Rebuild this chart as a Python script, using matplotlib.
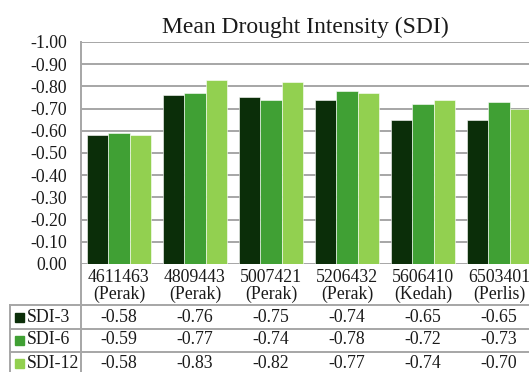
import numpy as np
import matplotlib
matplotlib.use("Agg")
import matplotlib.pyplot as plt
from matplotlib.transforms import blended_transform_factory

plt.rcParams['font.family'] = ['Liberation Serif', 'DejaVu Serif']

stations = ['4611463\n(Perak)', '4809443\n(Perak)', '5007421\n(Perak)',
            '5206432\n(Perak)', '5606410\n(Kedah)', '6503401\n(Perlis)']
series_names = ['SDI-3', 'SDI-6', 'SDI-12']
sdi3 = [-0.58, -0.76, -0.75, -0.74, -0.65, -0.65]
sdi6 = [-0.59, -0.77, -0.74, -0.78, -0.72, -0.73]
sdi12 = [-0.58, -0.83, -0.82, -0.77, -0.74, -0.70]
yticks = [0.0, -0.1, -0.2, -0.3, -0.4, -0.5, -0.6, -0.7, -0.8, -0.9, -1.0]

colors = ['#0b2e09', '#40a034', '#92d050']
grid_c = '#a6a6a6'
txt_c = '#1a1a1a'
fs = 12.8
W, H = 529, 372

fig = plt.figure(figsize=(W / 100, H / 100), dpi=100)
# plot area runs past the right edge, as in the cropped original
ax = fig.add_axes([81 / W, (H - 264) / H, 456 / W, 222 / H])

x = np.arange(len(stations))
bw = 0.28
for k, vals in enumerate([sdi3, sdi6, sdi12]):
    ax.bar(x + (k - 1) * bw, vals, width=bw, color=colors[k], zorder=3,
           edgecolor='white', linewidth=0.4)

ax.set_xlim(-0.5, len(stations) - 0.5)
ax.set_ylim(0, -1.0)
ax.set_yticks(yticks)
ax.set_yticklabels(['%.2f' % v for v in yticks], fontsize=fs, color=txt_c)
ax.tick_params(axis='y', length=0, pad=10)
ax.set_xticks([])
ax.grid(axis='y', color=grid_c, linewidth=1.4, zorder=0)
for s in ['top', 'right', 'bottom']:
    ax.spines[s].set_visible(False)
ax.spines['left'].set_color(grid_c)
ax.spines['left'].set_linewidth(1.4)

fig.text(305 / W, (H - 33) / H, 'Mean Drought Intensity (SDI)', fontsize=17,
         ha='center', va='baseline', color=txt_c)

# data table under the plot
tr = blended_transform_factory(ax.transData, fig.transFigure)
def fy(py):
    return (H - py) / H

for i, lab in enumerate(stations):
    ax.text(x[i], fy(286), lab, transform=tr, ha='center', va='center',
            fontsize=fs, linespacing=1.05, clip_on=False, color=txt_c)

row_y = [317, 340, 363]
for r, (name, vals) in enumerate(zip(series_names, [sdi3, sdi6, sdi12])):
    fig.patches.append(plt.Rectangle((15 / W, fy(row_y[r] + 4.5)), 9 / W, 9 / H,
                                     transform=fig.transFigure, color=colors[r]))
    fig.text(27 / W, fy(row_y[r]), name, fontsize=fs, ha='left', va='center',
             color=txt_c)
    for i, v in enumerate(vals):
        ax.text(x[i], fy(row_y[r]), '%.2f' % v, transform=tr, ha='center',
                va='center', fontsize=fs, clip_on=False, color=txt_c)

for py in [305, 328.5, 352]:
    fig.add_artist(plt.Line2D([10 / W, 1], [fy(py), fy(py)], color=grid_c, linewidth=1.4))
fig.add_artist(plt.Line2D([10 / W, 10 / W], [fy(305), 0], color=grid_c, linewidth=1.4))
fig.add_artist(plt.Line2D([81 / W, 81 / W], [fy(264), 0], color=grid_c, linewidth=1.4))

fig.savefig('out.png', dpi=100)
